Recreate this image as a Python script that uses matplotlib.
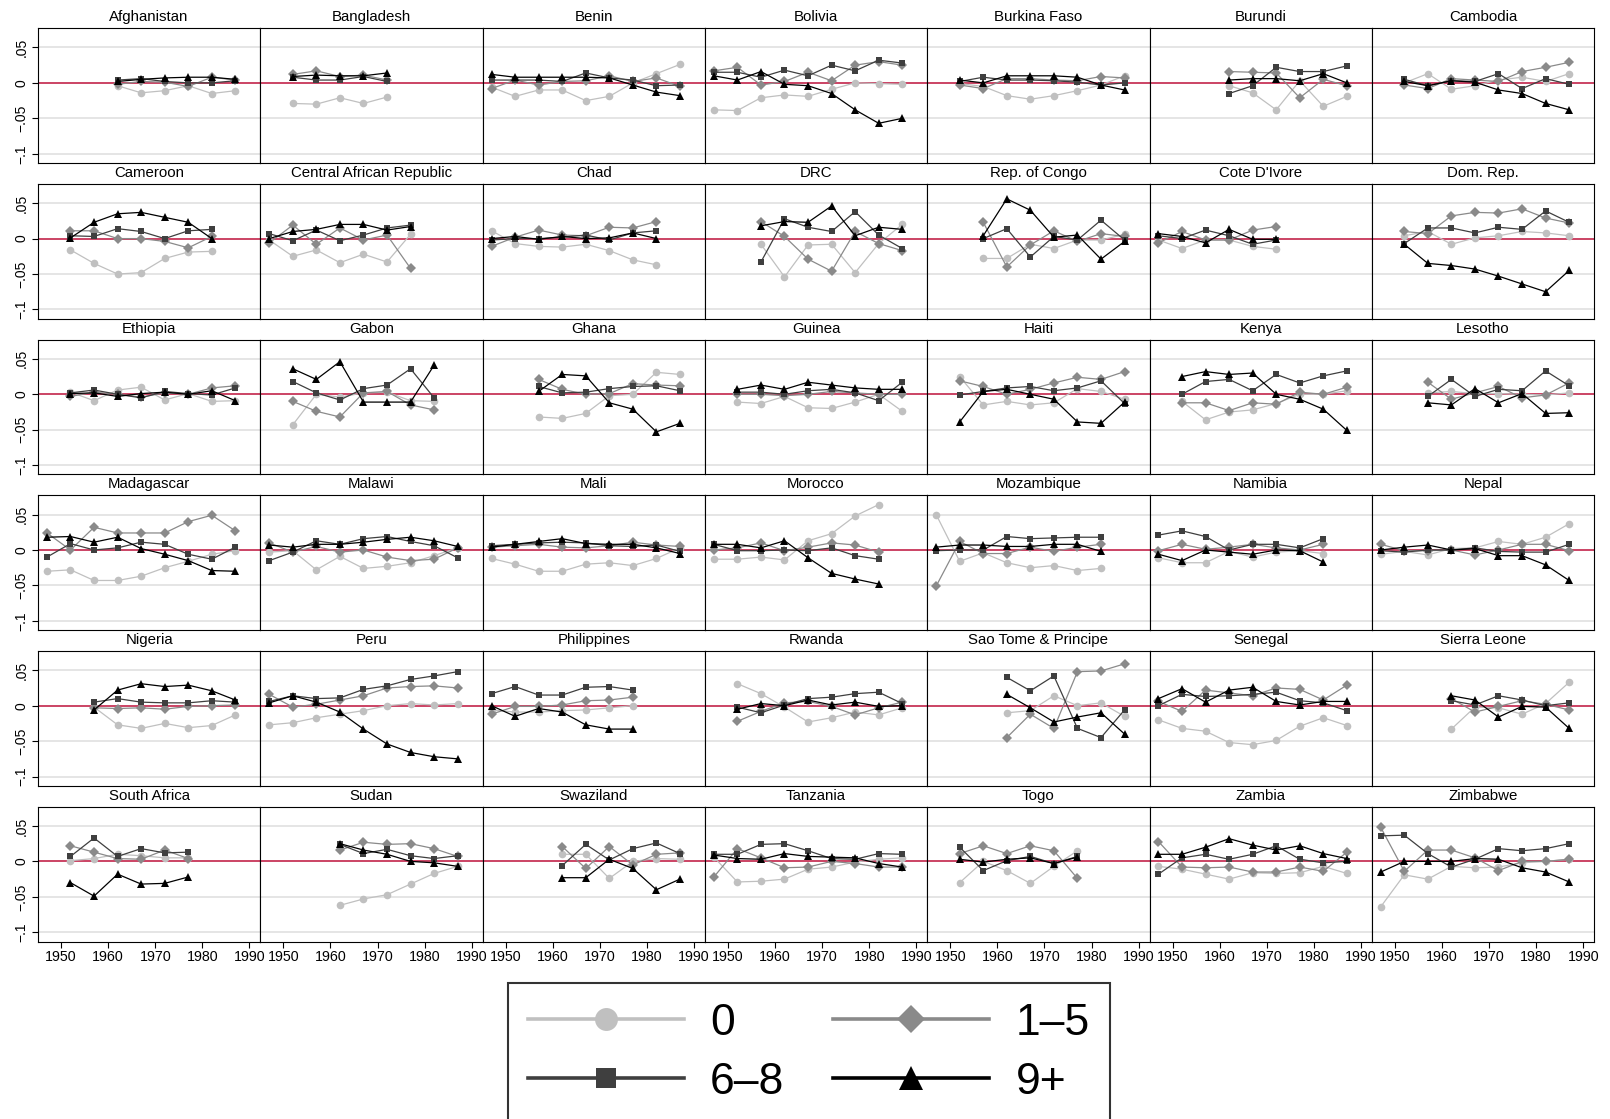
import numpy as np
import matplotlib
matplotlib.use("Agg")
import matplotlib.pyplot as plt
from matplotlib.lines import Line2D

plt.rcParams['font.family'] = ['Liberation Sans', 'DejaVu Sans']

N = None
years = [1947, 1952, 1957, 1962, 1967, 1972, 1977, 1982, 1987]

countries = [
    "Afghanistan", "Bangladesh", "Benin", "Bolivia", "Burkina Faso", "Burundi", "Cambodia",
    "Cameroon", "Central African Republic", "Chad", "DRC", "Rep. of Congo", "Cote D'Ivore", "Dom. Rep.",
    "Ethiopia", "Gabon", "Ghana", "Guinea", "Haiti", "Kenya", "Lesotho",
    "Madagascar", "Malawi", "Mali", "Morocco", "Mozambique", "Namibia", "Nepal",
    "Nigeria", "Peru", "Philippines", "Rwanda", "Sao Tome & Principe", "Senegal", "Sierra Leone",
    "South Africa", "Sudan", "Swaziland", "Tanzania", "Togo", "Zambia", "Zimbabwe",
]

# group "0"
grp_0 = {
    "Afghanistan": [N, N, N, -.004, -.014, -.011, -.004, -.015, -.011],
    "Bangladesh": [N, -.029, -.030, -.021, -.029, -.020, N, N, N],
    "Benin": [-.006, -.019, -.010, -.010, -.025, -.019, .000, .013, .026],
    "Bolivia": [-.038, -.039, -.021, -.017, -.019, -.009, .000, -.001, -.002],
    "Burkina Faso": [N, -.001, -.005, -.018, -.023, -.018, -.011, -.003, .010],
    "Burundi": [N, N, N, -.004, -.014, -.038, .003, -.033, -.019],
    "Cambodia": [N, .000, .013, -.009, -.004, .004, .008, .002, .013],
    "Cameroon": [N, -.016, -.035, -.050, -.048, -.028, -.019, -.018, N],
    "Central African Republic": [-.002, -.025, -.016, -.034, -.022, -.033, .006, N, N],
    "Chad": [.011, -.007, -.011, -.012, -.008, -.017, -.030, -.037, N],
    "DRC": [N, N, -.008, -.054, -.009, -.008, -.048, -.007, .020],
    "Rep. of Congo": [N, N, -.028, -.028, -.008, -.014, -.002, -.002, .006],
    "Cote D'Ivore": [-.002, -.014, -.002, -.002, -.011, -.015, N, N, N],
    "Dom. Rep.": [N, .004, .010, -.008, .001, .004, .010, .008, .004],
    "Ethiopia": [N, .003, -.009, .006, .010, -.008, .001, -.010, -.009],
    "Gabon": [N, -.043, .000, -.004, .002, .003, -.009, -.010, N],
    "Ghana": [N, N, -.032, -.034, -.027, -.002, .000, .031, .028],
    "Guinea": [N, -.011, -.013, -.003, -.019, -.020, -.011, .000, -.024],
    "Haiti": [N, .025, -.015, -.010, -.015, -.012, .008, .004, -.007],
    "Kenya": [N, -.010, -.036, -.025, -.022, -.013, .000, .000, .005],
    "Lesotho": [N, N, .002, .004, .001, .001, .000, -.001, .002],
    "Madagascar": [-.030, -.028, -.043, -.043, -.037, -.025, -.016, -.006, -.001],
    "Malawi": [-.003, -.001, -.028, -.009, -.026, -.023, -.018, -.008, .003],
    "Mali": [-.012, -.020, -.030, -.030, -.020, -.018, -.022, -.012, .003],
    "Morocco": [-.013, -.013, -.010, -.014, .013, .023, .048, .064, N],
    "Mozambique": [.050, -.016, -.004, -.018, -.025, -.022, -.029, -.026, N],
    "Namibia": [-.011, -.018, -.018, -.002, -.010, -.003, -.001, -.005, N],
    "Nepal": [-.006, -.002, -.007, .002, .003, .012, .008, .018, .037],
    "Nigeria": [N, N, -.002, -.027, -.032, -.025, -.031, -.028, -.013],
    "Peru": [-.027, -.024, -.017, -.012, -.007, .000, .003, .001, .003],
    "Philippines": [-.006, -.009, -.009, -.007, -.006, -.003, .000, N, N],
    "Rwanda": [N, .031, .017, -.002, -.023, -.017, -.009, -.013, -.003],
    "Sao Tome & Principe": [N, N, N, -.010, -.007, .014, .000, .004, -.015],
    "Senegal": [-.020, -.032, -.036, -.052, -.055, -.049, -.029, -.017, -.028],
    "Sierra Leone": [N, N, N, -.033, -.002, -.003, -.012, .003, .033],
    "South Africa": [N, .001, .004, .010, .008, .005, .005, N, N],
    "Sudan": [N, N, N, -.062, -.053, -.047, -.032, -.017, -.007],
    "Swaziland": [N, N, N, .010, .010, -.024, .000, .004, .003],
    "Tanzania": [.006, -.029, -.028, -.025, -.011, -.008, -.001, .003, .005],
    "Togo": [N, -.030, .000, -.013, -.031, -.007, .015, N, N],
    "Zambia": [-.007, -.011, -.018, -.025, -.016, -.017, -.016, -.007, -.017],
    "Zimbabwe": [-.064, -.019, -.025, -.007, -.009, -.008, -.002, .000, .003],
}

# group "1-5"
grp_1_5 = {
    "Afghanistan": [N, N, N, -.002, .002, .001, -.005, .008, .004],
    "Bangladesh": [N, .012, .017, .009, .011, .004, N, N, N],
    "Benin": [-.008, .004, -.003, .002, .003, .010, .002, .007, -.005],
    "Bolivia": [.017, .022, -.003, .002, .015, .003, .025, .030, .025],
    "Burkina Faso": [N, -.003, -.008, .006, .006, .004, .003, .009, .007],
    "Burundi": [N, N, N, .016, .015, .014, -.021, .005, -.004],
    "Cambodia": [N, -.003, -.008, .006, .004, .002, .016, .022, .029],
    "Cameroon": [N, .011, .011, .000, .000, -.004, -.013, .003, N],
    "Central African Republic": [-.006, .019, -.008, .015, -.002, .005, -.042, N, N],
    "Chad": [-.011, .002, .012, .005, .004, .016, .015, .024, N],
    "DRC": [N, N, .024, .003, -.029, -.046, .010, -.007, -.017],
    "Rep. of Congo": [N, N, .023, -.040, -.009, .011, -.004, .007, .003],
    "Cote D'Ivore": [-.006, .010, -.002, -.002, .012, .017, N, N, N],
    "Dom. Rep.": [N, .010, .007, .032, .037, .036, .042, .029, .022],
    "Ethiopia": [N, -.003, .003, .000, -.004, .002, .000, .009, .012],
    "Gabon": [N, -.010, -.024, -.032, .002, .004, -.015, -.022, N],
    "Ghana": [N, N, .021, .007, .000, .001, .015, .013, .012],
    "Guinea": [N, .000, .000, -.002, .000, .004, .002, .000, .000],
    "Haiti": [N, .019, .011, .000, .007, .016, .024, .021, .032],
    "Kenya": [N, -.012, -.012, -.023, -.012, -.014, .003, .000, .010],
    "Lesotho": [N, N, .017, -.007, .002, .011, -.005, -.001, .016],
    "Madagascar": [.024, .000, .032, .024, .024, .024, .040, .049, .027],
    "Malawi": [.010, -.003, .005, -.003, .000, -.010, -.015, -.013, .003],
    "Mali": [.004, .006, .008, .004, .003, .006, .011, .007, .005],
    "Morocco": [.000, .003, .010, -.001, .004, .010, .007, -.003, N],
    "Mozambique": [-.051, .012, -.005, -.005, .004, -.002, .004, .008, N],
    "Namibia": [-.001, .008, .001, .004, .008, .003, .000, .008, N],
    "Nepal": [.008, -.001, -.001, .000, -.007, .000, .008, .008, -.001],
    "Nigeria": [N, N, -.003, -.004, -.003, -.005, -.001, .000, .001],
    "Peru": [.016, -.002, .002, .008, .014, .025, .027, .028, .025],
    "Philippines": [-.012, -.001, -.001, .001, .007, .008, .012, N, N],
    "Rwanda": [N, -.022, -.008, .004, .006, -.001, -.013, -.003, .005],
    "Sao Tome & Principe": [N, N, N, -.045, -.012, -.032, .048, .049, .059],
    "Senegal": [.006, -.008, .022, .018, .014, .025, .023, .008, .029],
    "Sierra Leone": [N, N, N, .010, -.009, -.001, .007, .002, -.006],
    "South Africa": [N, .022, .013, .004, .003, .016, .004, N, N],
    "Sudan": [N, N, N, .016, .027, .024, .025, .018, .007],
    "Swaziland": [N, N, N, .021, -.010, .021, -.005, .010, .012],
    "Tanzania": [-.022, .018, .005, -.009, -.008, .000, -.003, -.008, -.008],
    "Togo": [N, .011, .022, .011, .022, .015, -.024, N, N],
    "Zambia": [.028, -.008, -.009, -.008, -.015, -.015, -.008, -.014, .013],
    "Zimbabwe": [.048, -.014, .016, .016, .005, -.013, .000, .000, .003],
}

# group "6-8"
grp_6_8 = {
    "Afghanistan": [N, N, N, .004, .006, .002, .000, .000, .003],
    "Bangladesh": [N, .008, .004, .004, .009, .002, N, N, N],
    "Benin": [.004, .004, .004, .002, .014, .007, .004, -.004, -.003],
    "Bolivia": [.015, .015, .008, .018, .010, .025, .017, .032, .028],
    "Burkina Faso": [N, .002, .008, .004, .004, .003, .001, -.003, .000],
    "Burundi": [N, N, N, -.015, -.004, .022, .016, .016, .024],
    "Cambodia": [N, .005, -.004, .003, .002, .013, -.008, .006, -.002],
    "Cameroon": [N, .004, .003, .014, .010, .000, .011, .013, N],
    "Central African Republic": [.007, -.003, .012, -.003, .005, .015, .019, N, N],
    "Chad": [-.002, .000, .000, .002, .005, -.002, .008, .011, N],
    "DRC": [N, N, -.033, .028, .016, .010, .038, .005, -.014],
    "Rep. of Congo": [N, N, .000, .014, -.026, .003, -.002, .026, -.002],
    "Cote D'Ivore": [.004, .000, .012, .004, -.008, -.002, N, N, N],
    "Dom. Rep.": [N, -.007, .015, .015, .008, .016, .013, .039, .023],
    "Ethiopia": [N, .002, .006, .000, -.005, .004, .001, -.001, .009],
    "Gabon": [N, .018, .002, -.008, .008, .013, .036, -.005, N],
    "Ghana": [N, N, .011, .002, .003, .008, .011, .012, .005],
    "Guinea": [N, .003, .003, .000, .005, .007, .002, -.009, .017],
    "Haiti": [N, -.001, .004, .009, .011, .005, .009, .019, -.013],
    "Kenya": [N, .000, .018, .021, .005, .028, .016, .026, .033],
    "Lesotho": [N, N, -.003, .021, -.003, .007, .005, .033, .012],
    "Madagascar": [-.010, .009, .000, .003, .011, .008, -.006, -.013, .004],
    "Malawi": [-.015, -.003, .013, .008, .016, .019, .012, .006, -.011],
    "Mali": [.006, .008, .010, .011, .010, .006, .005, .007, -.002],
    "Morocco": [.008, -.001, -.001, .000, -.001, .003, -.008, -.013, N],
    "Mozambique": [-.001, .000, .000, .019, .016, .017, .018, .018, N],
    "Namibia": [.021, .027, .019, .000, .008, .008, .003, .016, N],
    "Nepal": [-.001, -.003, .000, .000, .003, -.002, -.003, -.003, .008],
    "Nigeria": [N, N, .005, .010, .005, .004, .004, .007, .005],
    "Peru": [.006, .014, .010, .011, .023, .028, .037, .042, .048],
    "Philippines": [.017, .027, .015, .015, .026, .027, .022, N, N],
    "Rwanda": [N, -.002, -.010, .001, .010, .012, .017, .019, .003],
    "Sao Tome & Principe": [N, N, N, .040, .021, .042, -.032, -.045, -.006],
    "Senegal": [.000, .016, .013, .014, .016, .019, .007, .004, -.007],
    "Sierra Leone": [N, N, N, .007, .001, .014, .008, .000, .004],
    "South Africa": [N, .007, .033, .007, .018, .012, .013, N, N],
    "Sudan": [N, N, N, .024, .011, .017, .008, .004, .008],
    "Swaziland": [N, N, N, -.006, .024, .002, .018, .026, .011],
    "Tanzania": [.010, .010, .024, .025, .015, .004, .003, .011, .010],
    "Togo": [N, .020, -.013, .001, .007, -.003, .007, N, N],
    "Zambia": [-.018, .005, .010, .003, .010, .022, .003, -.002, .000],
    "Zimbabwe": [.036, .037, .011, -.008, .003, .018, .015, .018, .025],
}

# group "9+"
grp_9p = {
    "Afghanistan": [N, N, N, .002, .005, .007, .008, .008, .005],
    "Bangladesh": [N, .009, .011, .010, .010, .014, N, N, N],
    "Benin": [.012, .008, .008, .008, .008, .007, -.003, -.013, -.018],
    "Bolivia": [.010, .004, .016, -.002, -.004, -.015, -.038, -.057, -.050],
    "Burkina Faso": [N, .004, .000, .010, .010, .010, .008, -.003, -.010],
    "Burundi": [N, N, N, .004, .006, .006, .003, .013, .000],
    "Cambodia": [N, .002, -.004, .003, .001, -.010, -.015, -.029, -.038],
    "Cameroon": [N, .001, .023, .035, .037, .030, .023, .000, N],
    "Central African Republic": [.000, .010, .013, .020, .020, .012, .017, N, N],
    "Chad": [.000, .003, -.001, .003, .000, .001, .008, .000, N],
    "DRC": [N, N, .018, .024, .023, .046, .004, .016, .013],
    "Rep. of Congo": [N, N, .004, .056, .040, .002, .005, -.029, -.004],
    "Cote D'Ivore": [.007, .003, -.006, .013, -.001, -.001, N, N, N],
    "Dom. Rep.": [N, -.008, -.035, -.038, -.043, -.053, -.064, -.075, -.045],
    "Ethiopia": [N, .001, .002, -.003, .001, .003, .000, .005, -.009],
    "Gabon": [N, .036, .021, .046, -.011, -.011, -.011, .041, N],
    "Ghana": [N, N, .004, .028, .026, -.012, -.021, -.053, -.041],
    "Guinea": [N, .007, .013, .007, .017, .013, .009, .007, .007],
    "Haiti": [N, -.039, .004, .007, .000, -.007, -.039, -.041, -.011],
    "Kenya": [N, .025, .032, .028, .030, .000, -.007, -.021, -.051],
    "Lesotho": [N, N, -.012, -.015, .008, -.012, .001, -.027, -.026],
    "Madagascar": [.018, .019, .011, .018, .002, -.006, -.015, -.029, -.030],
    "Malawi": [.007, .004, .008, .008, .011, .015, .018, .013, .005],
    "Mali": [.004, .008, .012, .016, .009, .008, .008, .003, -.005],
    "Morocco": [.008, .008, .003, .013, -.011, -.033, -.041, -.048, N],
    "Mozambique": [.004, .007, .007, .005, .005, .008, .008, -.002, N],
    "Namibia": [-.006, -.015, .000, -.003, -.006, .000, -.001, -.017, N],
    "Nepal": [.000, .004, .007, .000, .002, -.008, -.008, -.021, -.043],
    "Nigeria": [N, N, -.006, .022, .031, .027, .029, .021, .008],
    "Peru": [.004, .014, .005, -.009, -.033, -.054, -.066, -.072, -.075],
    "Philippines": [.000, -.015, -.004, -.009, -.027, -.033, -.033, N, N],
    "Rwanda": [N, -.005, .003, .000, .008, .001, .005, -.001, .000],
    "Sao Tome & Principe": [N, N, N, .016, -.003, -.023, -.016, -.010, -.040],
    "Senegal": [.010, .024, .005, .022, .026, .006, .001, .006, .006],
    "Sierra Leone": [N, N, N, .014, .008, -.016, -.001, -.002, -.032],
    "South Africa": [N, -.030, -.049, -.018, -.032, -.031, -.022, N, N],
    "Sudan": [N, N, N, .025, .016, .010, .000, -.002, -.007],
    "Swaziland": [N, N, N, -.023, -.023, .003, -.010, -.040, -.025],
    "Tanzania": [.009, .004, .003, .011, .007, .006, .005, -.003, -.008],
    "Togo": [N, .003, -.001, .003, .005, -.003, .006, N, N],
    "Zambia": [.010, .010, .020, .032, .023, .016, .022, .011, .004],
    "Zimbabwe": [-.015, .000, .000, .000, .004, .003, -.009, -.015, -.029],
}

groups = [
    ("0", grp_0, "#c0c0c0", "o", 5.5),
    ("1\u20135", grp_1_5, "#8a8a8a", "D", 4.8),
    ("6\u20138", grp_6_8, "#3f3f3f", "s", 5.0),
    ("9+", grp_9p, "#000000", "^", 5.8),
]

yticks = [-0.1, -0.05, 0, 0.05]
yticklabels = ["\u2212.1", "\u2212.05", "0", ".05"]
xticks = [1950, 1960, 1970, 1980, 1990]

W, H = 1610, 1119
fig = plt.figure(figsize=(W / 100, H / 100), dpi=100)

left0, top0 = 38.0, 28.3
pw, ph = 222.3, 134.7
row_step = 155.7
ncols = 7

for k, name in enumerate(countries):
    r, c = divmod(k, ncols)
    x0 = left0 + c * pw
    y_top = top0 + r * row_step
    ax = fig.add_axes([x0 / W, 1 - (y_top + ph) / H, pw / W, ph / H])
    ax.set_xlim(1945.1, 1992.3)
    ax.set_ylim(-0.113, 0.077)
    for yv in yticks:
        ax.axhline(yv, color="#e3e3e3", lw=1.3, zorder=0)
    ax.axhline(0, color="#c8294f", lw=1.2, zorder=1)

    yrs = np.array(years, dtype=float)
    for label, data, col, mk, ms in groups:
        vals = np.array([np.nan if v is None else v for v in data[name]], dtype=float)
        ok = ~np.isnan(vals)
        ax.plot(yrs[ok], vals[ok], color=col, marker=mk, markersize=ms,
                markeredgewidth=0, lw=0.9, zorder=2)

    ax.set_title(name, fontsize=10.8, pad=5)
    for sp in ax.spines.values():
        sp.set_color("black")
        sp.set_linewidth(0.8)

    ax.set_yticks(yticks)
    ax.set_xticks(xticks)
    if c == 0:
        ax.set_yticklabels(yticklabels, rotation=90, va="center", fontsize=10)
        ax.tick_params(axis="y", length=4, width=0.8, pad=3)
    else:
        ax.tick_params(axis="y", length=0, labelleft=False)
    if r == 5:
        ax.set_xticklabels([str(t) for t in xticks], fontsize=10.3)
        ax.tick_params(axis="x", length=4, width=0.8, pad=2)
    else:
        ax.tick_params(axis="x", length=0, labelbottom=False)

# legend
handles = {}
for label, data, col, mk, ms in groups:
    handles[label] = Line2D([], [], color=col, marker=mk, markersize=ms * 3.0,
                            markeredgewidth=0, lw=2.6)
order = ["0", "6\u20138", "1\u20135", "9+"]
leg = fig.legend([handles[o] for o in order], order, loc="upper left",
                 bbox_to_anchor=(508 / W, 1 - 983 / H), ncol=2, fontsize=32,
                 frameon=True, fancybox=False, edgecolor="black",
                 handlelength=3.5, handletextpad=0.6, columnspacing=1.1,
                 borderpad=0.45, labelspacing=0.4, borderaxespad=0)
leg.get_frame().set_linewidth(1.5)

fig.savefig("out.png", dpi=100)
